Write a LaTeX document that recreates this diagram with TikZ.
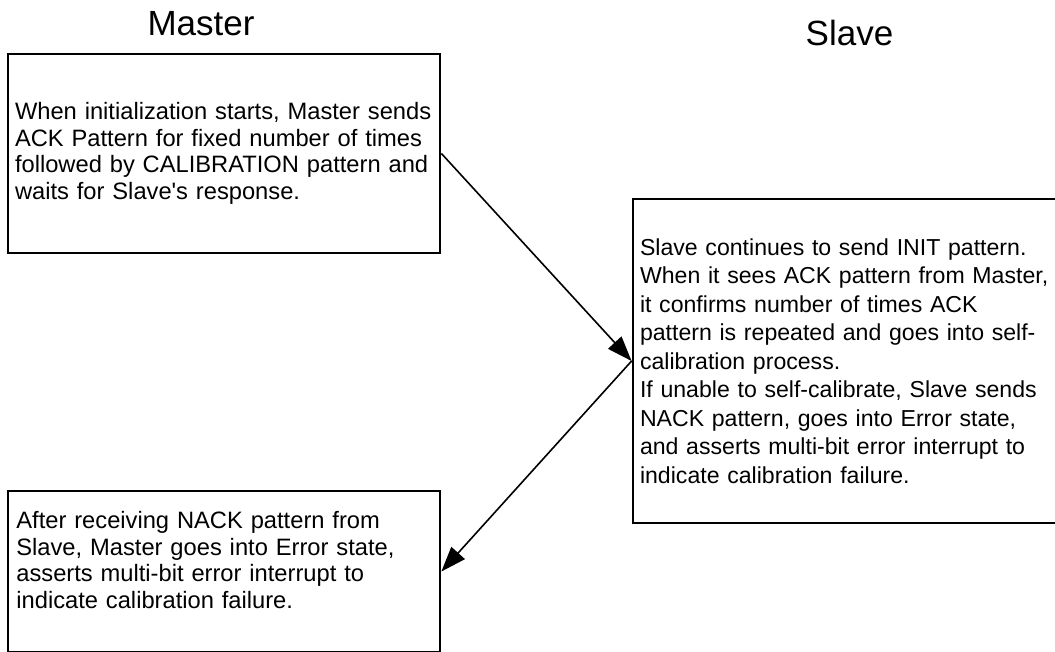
\documentclass[tikz,border=0pt]{standalone}
\usepackage{fontspec}
\setmainfont{Liberation Sans}
\usepackage{tikz}
\usetikzlibrary{arrows.meta,positioning}

\begin{document}
\begin{tikzpicture}[
x=1pt,y=-1pt,
title/.style={
  inner sep=0pt,
  font=\fontsize{35}{40}\selectfont
  },
box/.style={
  draw,
  rectangle,
  line width=2.8pt,
  inner xsep=7pt,
  inner ysep=0pt,
  align=left,
  font=\fontsize{23.7}{26.7}\selectfont
  },
>={Triangle[length=25pt,width=18pt]}
]
\clip (0,0) rectangle (1055,651);
\node[title] (master) at (201,23.5) {Master};
\node[title] (slave) at (849.5,33) {Slave};
\node[box,minimum width=432pt,minimum height=199pt,text width=418pt] (init) at (224,153.5)
{When initialization starts, Master sends\\
ACK Pattern for fixed number of times\\
followed by CALIBRATION pattern and\\
waits for Slave\textquotesingle s response.};
\node[box,minimum width=442pt,minimum height=324pt,text width=428pt,
  font=\fontsize{23.1}{28.5}\selectfont] (calib) at (854,361)
{Slave continues to send INIT pattern.\\
When it sees ACK pattern from Master,\\
it confirms number of times ACK\\
pattern is repeated and goes into self-\\
calibration process.\\
If unable to self-calibrate, Slave sends\\
NACK pattern, goes into Error state,\\
and asserts multi-bit error interrupt to\\
indicate calibration failure.};
\node[box,minimum width=432pt,minimum height=161pt] (fail) at (224,571.5) {};
\node[box,draw=none,anchor=west,text width=418pt] (failtext) at (8,560)
{After receiving NACK pattern from\\
Slave, Master goes into Error state,\\
asserts multi-bit error interrupt to\\
indicate calibration failure.};
\draw[->,line width=1.6pt] (init.east) -- (calib.west);
\draw[->,line width=1.6pt] (calib.west) -- (fail.east);
\end{tikzpicture}
\end{document}
